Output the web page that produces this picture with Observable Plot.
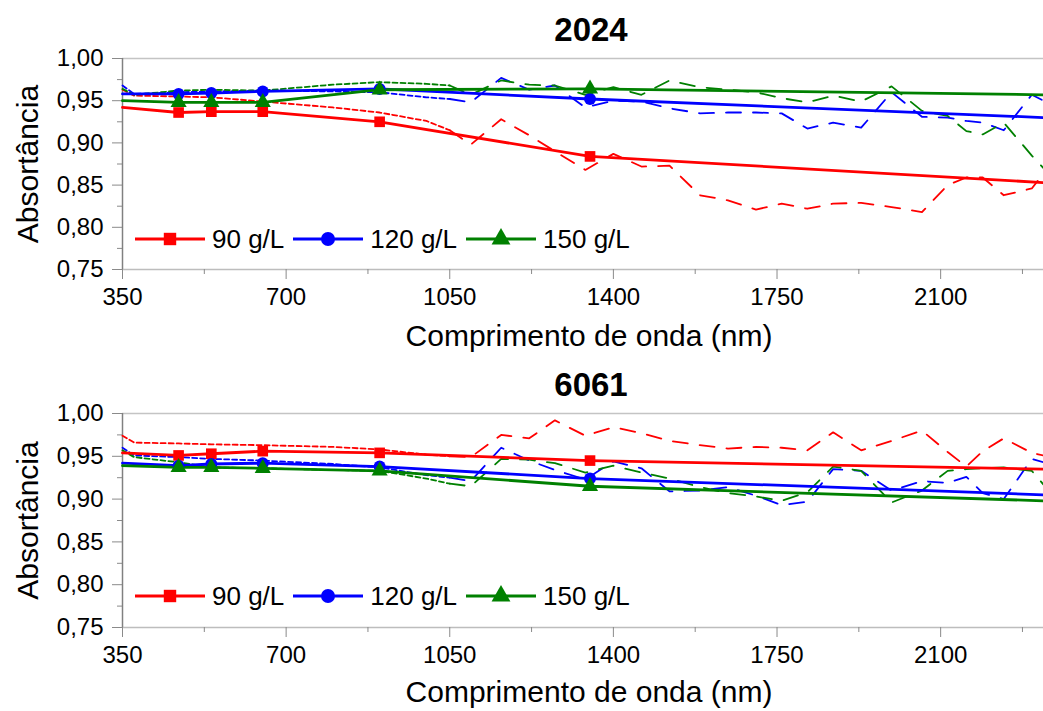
<!DOCTYPE html>
<html><head><meta charset="utf-8">
<script src="https://cdn.jsdelivr.net/npm/d3@7"></script>
<script src="https://cdn.jsdelivr.net/npm/@observablehq/plot@0.6"></script>
<style>
body{margin:0;background:#fff;font-family:"Liberation Sans",Arial,sans-serif;}
#root{width:1043px;}
.panel{position:relative;width:1043px;}
.legend{position:absolute;display:flex;align-items:center;font-size:26px;color:#000;line-height:1;}
.legend span{margin:0 9px 0 7px;}
</style></head><body><div id="root"></div>
<script>
// ---- data ----
const series = ["90 g/L", "120 g/L", "150 g/L"];
const colors = ["#ff0000", "#0000ff", "#008000"];
const symbols = ["square", "circle", "triangle"];
const panelTitles = ["2024", "6061"];

// measured spectra (dashed)
const wavelengths = [350, 375, 470, 540, 650, 800, 900, 1000, 1050, 1095, 1160, 1220, 1275, 1340, 1400, 1460, 1520, 1585, 1645, 1705, 1760, 1815, 1870, 1930, 1995, 2060, 2115, 2155, 2190, 2235, 2295, 2320];
const m2024_90  = [0.963, 0.956, 0.955, 0.954, 0.949, 0.942, 0.936, 0.926, 0.915, 0.898, 0.928, 0.909, 0.890, 0.868, 0.887, 0.872, 0.873, 0.838, 0.832, 0.821, 0.828, 0.822, 0.828, 0.829, 0.824, 0.818, 0.850, 0.859, 0.859, 0.838, 0.846, 0.864];
const m2024_120 = [0.968, 0.958, 0.960, 0.961, 0.962, 0.961, 0.960, 0.954, 0.952, 0.948, 0.977, 0.963, 0.968, 0.942, 0.950, 0.949, 0.941, 0.935, 0.936, 0.936, 0.935, 0.917, 0.924, 0.918, 0.960, 0.931, 0.930, 0.926, 0.924, 0.915, 0.957, 0.950];
const m2024_150 = [0.964, 0.957, 0.962, 0.963, 0.962, 0.969, 0.972, 0.970, 0.968, 0.957, 0.974, 0.969, 0.968, 0.957, 0.966, 0.957, 0.974, 0.966, 0.963, 0.960, 0.953, 0.948, 0.956, 0.949, 0.967, 0.938, 0.932, 0.914, 0.910, 0.924, 0.885, 0.870];
const m6061_90  = [0.974, 0.966, 0.965, 0.964, 0.963, 0.961, 0.958, 0.952, 0.950, 0.949, 0.975, 0.971, 0.992, 0.974, 0.984, 0.977, 0.968, 0.963, 0.959, 0.961, 0.960, 0.957, 0.978, 0.957, 0.968, 0.980, 0.955, 0.938, 0.956, 0.971, 0.954, 0.951];
const m6061_120 = [0.960, 0.951, 0.949, 0.947, 0.945, 0.941, 0.937, 0.928, 0.925, 0.921, 0.960, 0.945, 0.934, 0.923, 0.944, 0.936, 0.909, 0.910, 0.914, 0.904, 0.893, 0.897, 0.935, 0.933, 0.910, 0.921, 0.919, 0.926, 0.907, 0.900, 0.947, 0.943];
const m6061_150 = [0.957, 0.949, 0.943, 0.937, 0.936, 0.934, 0.933, 0.924, 0.918, 0.915, 0.947, 0.946, 0.942, 0.931, 0.939, 0.931, 0.924, 0.914, 0.907, 0.903, 0.898, 0.908, 0.938, 0.933, 0.896, 0.910, 0.933, 0.935, 0.936, 0.937, 0.933, 0.917];

// model curves (solid with markers)
const modelWl = [350, 470, 540, 650, 900, 1350, 2320];
const markerWl = [470, 540, 650, 900, 1350];
const f2024_90  = [0.942, 0.936, 0.937, 0.937, 0.925, 0.884, 0.853];
const f2024_120 = [0.958, 0.958, 0.959, 0.961, 0.964, 0.952, 0.930];
const f2024_150 = [0.950, 0.948, 0.948, 0.948, 0.963, 0.964, 0.957];
const f6061_90  = [0.954, 0.951, 0.953, 0.956, 0.954, 0.945, 0.935];
const f6061_120 = [0.942, 0.939, 0.941, 0.942, 0.938, 0.924, 0.905];
const f6061_150 = [0.939, 0.937, 0.937, 0.936, 0.933, 0.915, 0.898];

// ticks
const xMajor = [350, 700, 1050, 1400, 1750, 2100];
const xMinor = [525, 875, 1225, 1575, 1925, 2275];
const yMajor = [0.75, 0.80, 0.85, 0.90, 0.95, 1.00];
const yMinor = [0.775, 0.825, 0.875, 0.925, 0.975];
const xLabel = "Comprimento de onda (nm)";
const yLabel = "Absortância";

// ---- drawing ----
const FONT = "'Liberation Sans', Arial, sans-serif";
const fmt = d => d3.format(".2f")(d).replace(".", ",");

function panel(title, measured, model, height, plotH, xLabDy) {
  const meas = [], mod = [];
  series.forEach((s, i) => {
    wavelengths.forEach((w, j) => meas.push({wl: w, v: measured[i][j], s}));
    modelWl.forEach((w, j) => mod.push({wl: w, v: model[i][j], s}));
  });
  const marks = mod.filter(d => markerWl.includes(d.wl));
  const top = 58, bottom = height - top - plotH;
  const plot = Plot.plot({
    width: 1043, height,
    marginLeft: 122, marginRight: 0, marginTop: top, marginBottom: bottom,
    style: {fontFamily: FONT, background: "white", color: "black"},
    x: {domain: [350, 2320]},
    y: {domain: [0.75, 1.0]},
    color: {domain: series, range: colors},
    symbol: {domain: series, range: symbols},
    marks: [
      Plot.ruleY([1.0], {stroke: "#c4c4c4", strokeWidth: 1.5}),
      Plot.ruleY([0.75], {stroke: "#bdbdbd", strokeWidth: 1.5}),
      Plot.axisY({ticks: yMinor, tickSize: 5, tickFormat: () => "", stroke: "#8a8a8a", label: null}),
      Plot.axisY({ticks: yMajor, tickSize: 10, tickPadding: 9, tickFormat: fmt, fontSize: 24, stroke: "#8a8a8a", fill: "black", label: null}),
      Plot.axisX({ticks: xMinor, tickSize: 5, tickFormat: () => "", stroke: "#8a8a8a", label: null}),
      Plot.axisX({ticks: xMajor, tickSize: 10, tickPadding: 8, tickFormat: d => String(d), fontSize: 24, stroke: "#8a8a8a", fill: "black", label: null}),
      Plot.ruleX([350], {stroke: "#808080", strokeWidth: 1.5}),
      Plot.line(meas.filter(d => d.wl <= 1050), {x: "wl", y: "v", z: "s", stroke: "s", strokeWidth: 1.8, strokeDasharray: "5,3"}),
      Plot.line(meas.filter(d => d.wl >= 1050), {x: "wl", y: "v", z: "s", stroke: "s", strokeWidth: 1.8, strokeDasharray: "15,12"}),
      Plot.line(mod, {x: "wl", y: "v", z: "s", stroke: "s", strokeWidth: 2.8}),
      Plot.dot(marks, {x: "wl", y: "v", fill: "s", stroke: "none", symbol: "s", r: 6}),
      Plot.text([title], {text: d => d, frameAnchor: "top", lineAnchor: "middle", dy: -28, dx: 8, fontSize: 33, fontWeight: "bold", fill: "black"}),
      Plot.text([xLabel], {text: d => d, frameAnchor: "bottom", lineAnchor: "middle", dy: xLabDy, dx: 6, fontSize: 30, fill: "black"}),
      Plot.text([yLabel], {text: d => d, frameAnchor: "left", textAnchor: "middle", lineAnchor: "middle", dx: -94, rotate: -90, fontSize: 30, fill: "black"})
    ]
  });
  const wrap = document.createElement("div");
  wrap.className = "panel";
  wrap.appendChild(plot);
  // legend
  const yLeg = plot.scale("y").apply(0.786);
  const leg = document.createElement("div");
  leg.className = "legend";
  leg.style.left = "135px";
  leg.style.top = (yLeg - 15) + "px";
  leg.style.height = "30px";
  series.forEach((s, i) => {
    const svg = d3.create("svg").attr("width", 70).attr("height", 30);
    svg.append("line").attr("x1", 0).attr("x2", 70).attr("y1", 15).attr("y2", 15)
      .attr("stroke", colors[i]).attr("stroke-width", 2.8);
    const type = [d3.symbolSquare, d3.symbolCircle, d3.symbolTriangle][i];
    svg.append("path").attr("d", d3.symbol(type, Math.PI * 7 * 7)()).attr("transform", "translate(35,15)")
      .attr("fill", colors[i]);
    leg.appendChild(svg.node());
    const t = document.createElement("span");
    t.textContent = s;
    leg.appendChild(t);
  });
  wrap.appendChild(leg);
  return wrap;
}

const root = document.getElementById("root");
root.appendChild(panel(panelTitles[0], [m2024_90, m2024_120, m2024_150], [f2024_90, f2024_120, f2024_150], 355, 211, 67));
root.appendChild(panel(panelTitles[1], [m6061_90, m6061_120, m6061_150], [f6061_90, f6061_120, f6061_150], 356, 214, 65));
</script>
</body></html>
